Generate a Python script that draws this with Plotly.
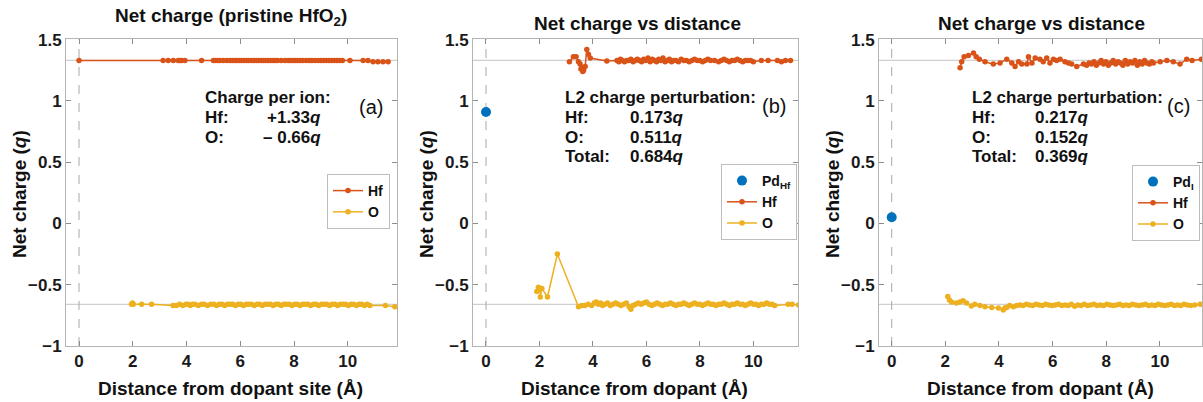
import plotly.graph_objects as go

# ---------------- data ----------------
x_ticks = [0, 2, 4, 6, 8, 10]
y_ticks = [-1, -0.5, 0, 0.5, 1, 1.5]
ref_hf = 1.33
ref_o = -0.66

# (a) pristine HfO2
dist_a_hf = [0.00, 3.13, 3.32, 3.51, 3.69, 3.76, 3.82, 3.94, 4.56, 5.00,
             5.08, 5.16, 5.24, 5.37, 5.50, 5.62, 5.71, 5.80, 5.88, 5.97,
             6.05, 6.14, 6.22, 6.30, 6.41, 6.50, 6.60, 6.69, 6.78, 6.86,
             6.95, 7.04, 7.13, 7.22, 7.30, 7.38, 7.52, 7.66, 7.78, 7.86,
             7.95, 8.04, 8.13, 8.22, 8.32, 8.45, 8.56, 8.66, 8.78, 8.90,
             9.00, 9.10, 9.20, 9.30, 9.40, 9.50, 9.60, 9.70, 9.80, 10.08,
             10.57, 10.75, 10.94, 11.12, 11.31, 11.50]
q_a_hf = [1.33, 1.33, 1.33, 1.33, 1.33, 1.33, 1.33, 1.33, 1.33, 1.33,
          1.33, 1.33, 1.33, 1.33, 1.33, 1.33, 1.33, 1.33, 1.33, 1.33,
          1.33, 1.33, 1.33, 1.33, 1.33, 1.33, 1.33, 1.33, 1.33, 1.33,
          1.33, 1.33, 1.33, 1.33, 1.33, 1.33, 1.33, 1.33, 1.33, 1.33,
          1.33, 1.33, 1.33, 1.33, 1.33, 1.33, 1.33, 1.33, 1.33, 1.33,
          1.33, 1.33, 1.33, 1.33, 1.33, 1.33, 1.33, 1.33, 1.33, 1.33,
          1.33, 1.33, 1.32, 1.32, 1.32, 1.32]
dist_a_o = [1.95, 1.99, 2.02, 2.33, 2.70, 3.50, 3.62, 3.74, 3.86, 3.98,
            4.06, 4.14, 4.22, 4.32, 4.44, 4.56, 4.66, 4.78, 4.90, 5.02,
            5.12, 5.22, 5.32, 5.42, 5.52, 5.62, 5.72, 5.82, 5.92, 6.02,
            6.12, 6.22, 6.32, 6.42, 6.52, 6.62, 6.72, 6.82, 6.92, 7.02,
            7.12, 7.22, 7.32, 7.42, 7.52, 7.62, 7.72, 7.82, 7.92, 8.02,
            8.12, 8.22, 8.32, 8.42, 8.52, 8.62, 8.72, 8.82, 8.92, 9.02,
            9.12, 9.22, 9.32, 9.42, 9.52, 9.62, 9.72, 9.82, 9.92, 10.02,
            10.12, 10.22, 10.32, 10.42, 10.52, 10.62, 10.72, 10.82, 11.40, 11.75]
q_a_o = [-0.66, -0.65, -0.66, -0.66, -0.66, -0.67, -0.67, -0.66, -0.67, -0.66,
         -0.66, -0.67, -0.66, -0.66, -0.67, -0.66, -0.66, -0.67, -0.66, -0.66,
         -0.67, -0.66, -0.66, -0.67, -0.66, -0.66, -0.66, -0.67, -0.66, -0.66,
         -0.67, -0.66, -0.66, -0.66, -0.67, -0.66, -0.66, -0.67, -0.66, -0.66,
         -0.66, -0.67, -0.66, -0.66, -0.67, -0.66, -0.66, -0.66, -0.67, -0.66,
         -0.66, -0.67, -0.66, -0.66, -0.66, -0.67, -0.66, -0.66, -0.67, -0.66,
         -0.66, -0.66, -0.67, -0.66, -0.66, -0.67, -0.66, -0.66, -0.66, -0.67,
         -0.66, -0.66, -0.67, -0.66, -0.66, -0.67, -0.66, -0.67, -0.67, -0.68]

# (b) Pd substituting Hf
dist_b_pd = [0.0]
q_b_pd = [0.91]
dist_b_hf = [3.12, 3.27, 3.37, 3.46, 3.52, 3.55, 3.58, 3.62, 3.65, 3.71,
             3.77, 3.83, 3.90, 4.52, 4.90, 4.97, 5.03, 5.10, 5.18, 5.26,
             5.34, 5.42, 5.50, 5.58, 5.66, 5.74, 5.82, 5.90, 5.98, 6.06,
             6.14, 6.22, 6.30, 6.38, 6.46, 6.54, 6.62, 6.70, 6.78, 6.86,
             6.94, 7.02, 7.10, 7.20, 7.30, 7.40, 7.50, 7.60, 7.70, 7.80,
             7.90, 8.00, 8.10, 8.20, 8.30, 8.40, 8.55, 8.70, 8.80, 8.90,
             9.00, 9.10, 9.20, 9.30, 9.40, 9.50, 9.60, 9.70, 9.80, 9.90,
             10.00, 10.30, 10.55, 10.90, 11.05, 11.20, 11.39]
q_b_hf = [1.32, 1.36, 1.36, 1.32, 1.30, 1.26, 1.27, 1.24, 1.25, 1.28,
          1.42, 1.38, 1.35, 1.325, 1.33, 1.32, 1.34, 1.33, 1.32, 1.33,
          1.33, 1.34, 1.32, 1.33, 1.34, 1.33, 1.32, 1.34, 1.33, 1.35,
          1.32, 1.34, 1.33, 1.32, 1.34, 1.33, 1.35, 1.32, 1.33, 1.34,
          1.32, 1.33, 1.33, 1.32, 1.34, 1.33, 1.33, 1.32, 1.33, 1.34,
          1.33, 1.33, 1.32, 1.33, 1.34, 1.33, 1.33, 1.32, 1.33, 1.34,
          1.33, 1.32, 1.33, 1.33, 1.34, 1.33, 1.32, 1.33, 1.33, 1.33,
          1.32, 1.33, 1.33, 1.33, 1.32, 1.33, 1.33]
dist_b_o = [1.90, 1.96, 2.02, 2.03, 2.09, 2.30, 2.67, 3.46, 3.58, 3.70,
            3.82, 3.95, 4.05, 4.12, 4.20, 4.28, 4.36, 4.45, 4.55, 4.65,
            4.75, 4.85, 4.95, 5.05, 5.15, 5.25, 5.35, 5.42, 5.50, 5.60,
            5.70, 5.80, 5.90, 6.00, 6.10, 6.20, 6.30, 6.40, 6.50, 6.60,
            6.70, 6.80, 6.90, 7.00, 7.10, 7.20, 7.30, 7.40, 7.50, 7.60,
            7.70, 7.80, 7.90, 8.00, 8.10, 8.20, 8.30, 8.40, 8.50, 8.60,
            8.70, 8.80, 8.90, 9.00, 9.10, 9.20, 9.30, 9.40, 9.50, 9.60,
            9.70, 9.80, 9.90, 10.00, 10.10, 10.20, 10.30, 10.40, 10.50, 10.60,
            10.70, 10.80, 11.30, 11.45, 11.69]
q_b_o = [-0.555, -0.52, -0.535, -0.60, -0.53, -0.60, -0.25, -0.68, -0.67, -0.67,
         -0.66, -0.67, -0.65, -0.64, -0.66, -0.65, -0.67, -0.66, -0.65, -0.67,
         -0.66, -0.65, -0.66, -0.67, -0.66, -0.65, -0.68, -0.70, -0.67, -0.66,
         -0.65, -0.66, -0.65, -0.64, -0.66, -0.67, -0.66, -0.65, -0.66, -0.67,
         -0.66, -0.66, -0.65, -0.66, -0.67, -0.66, -0.66, -0.65, -0.66, -0.67,
         -0.66, -0.65, -0.66, -0.66, -0.67, -0.66, -0.65, -0.66, -0.66, -0.67,
         -0.66, -0.66, -0.65, -0.66, -0.67, -0.66, -0.66, -0.65, -0.66, -0.66,
         -0.67, -0.66, -0.65, -0.66, -0.66, -0.67, -0.66, -0.66, -0.65, -0.66,
         -0.66, -0.67, -0.66, -0.66, -0.665]

# (c) Pd interstitial
dist_c_pd = [0.0]
q_c_pd = [0.05]
dist_c_hf = [2.55, 2.61, 2.70, 2.86, 3.05, 3.15, 3.27, 3.48, 3.79, 4.04,
             4.29, 4.48, 4.60, 4.73, 4.85, 5.04, 5.10, 5.23, 5.35, 5.53,
             5.65, 5.78, 5.90, 6.03, 6.15, 6.28, 6.46, 6.59, 6.71, 6.90,
             7.15, 7.27, 7.36, 7.45, 7.54, 7.63, 7.72, 7.81, 7.90, 7.99,
             8.08, 8.17, 8.26, 8.35, 8.44, 8.53, 8.62, 8.71, 8.80, 8.89,
             8.98, 9.07, 9.16, 9.25, 9.34, 9.43, 9.52, 9.61, 9.70, 9.76,
             10.01, 10.26, 10.50, 10.75, 11.00, 11.20, 11.55]
q_c_hf = [1.27, 1.32, 1.36, 1.37, 1.39, 1.36, 1.34, 1.32, 1.30, 1.31,
          1.34, 1.31, 1.28, 1.32, 1.30, 1.30, 1.36, 1.31, 1.35, 1.34,
          1.32, 1.35, 1.31, 1.34, 1.33, 1.34, 1.32, 1.31, 1.30, 1.28,
          1.30, 1.29, 1.31, 1.30, 1.32, 1.29, 1.31, 1.33, 1.30, 1.32,
          1.29, 1.31, 1.33, 1.30, 1.32, 1.31, 1.29, 1.33, 1.30, 1.32,
          1.31, 1.33, 1.29, 1.32, 1.30, 1.33, 1.31, 1.30, 1.32, 1.31,
          1.32, 1.33, 1.32, 1.30, 1.34, 1.33, 1.34]
dist_c_o = [2.09, 2.15, 2.23, 2.41, 2.54, 2.66, 2.79, 2.97, 3.10, 3.29,
            3.48, 3.73, 3.98, 4.16, 4.22, 4.29, 4.40, 4.54, 4.66, 4.78,
            4.90, 5.02, 5.14, 5.26, 5.38, 5.50, 5.62, 5.74, 5.86, 5.98,
            6.10, 6.22, 6.34, 6.46, 6.58, 6.70, 6.82, 6.94, 7.06, 7.18,
            7.30, 7.42, 7.54, 7.66, 7.78, 7.90, 8.02, 8.14, 8.26, 8.38,
            8.50, 8.62, 8.74, 8.86, 8.98, 9.10, 9.22, 9.34, 9.46, 9.58,
            9.70, 9.82, 9.94, 10.06, 10.18, 10.30, 10.42, 10.54, 10.66, 10.78,
            10.90, 11.02, 11.15, 11.30, 11.50]
q_c_o = [-0.597, -0.624, -0.64, -0.65, -0.64, -0.63, -0.65, -0.673, -0.66, -0.67,
         -0.68, -0.685, -0.69, -0.706, -0.69, -0.685, -0.67, -0.68, -0.67, -0.665,
         -0.67, -0.66, -0.665, -0.67, -0.66, -0.665, -0.67, -0.66, -0.665, -0.67,
         -0.665, -0.66, -0.67, -0.665, -0.67, -0.66, -0.675, -0.665, -0.67, -0.66,
         -0.67, -0.665, -0.66, -0.67, -0.665, -0.67, -0.66, -0.665, -0.67, -0.665,
         -0.66, -0.67, -0.665, -0.67, -0.66, -0.665, -0.67, -0.665, -0.66, -0.67,
         -0.665, -0.67, -0.66, -0.665, -0.67, -0.665, -0.66, -0.67, -0.665, -0.67,
         -0.66, -0.665, -0.67, -0.665, -0.66]

# ---------------- styling ----------------
W, H = 1203, 402
MT, MB = 39, 56
PH = H - MT - MB
FONT = "Liberation Sans"
C_HF = "#D95319"
C_O = "#EDB120"
C_PD = "#0072BD"

def px(x):
    return x / W

def py(y):
    return (H - MB - y) / PH

fig = go.Figure()

panels = [
    # xaxis id, yaxis id, legend id, domain px, x range
    ("x", "y", "legend", (66, 397), (-0.484, 11.83)),
    ("x2", "y2", "legend2", (473, 798), (-0.486, 11.67)),
    ("x3", "y3", "legend3", (879, 1202), (-0.473, 11.57)),
]

def add_series(xa, ya, lg, dist, q, name, color, mode="lines+markers", size=5.5):
    fig.add_trace(go.Scatter(
        x=dist, y=q, name=name, mode=mode, xaxis=xa, yaxis=ya, legend=lg,
        line=dict(color=color, width=1.5),
        marker=dict(color=color, size=size),
    ))

# panel a
add_series("x", "y", "legend", dist_a_hf, q_a_hf, "Hf", C_HF)
add_series("x", "y", "legend", dist_a_o, q_a_o, "O", C_O)
# panel b
add_series("x2", "y2", "legend2", dist_b_pd, q_b_pd, "Pd<sub>Hf</sub>", C_PD, mode="markers", size=10)
add_series("x2", "y2", "legend2", dist_b_hf, q_b_hf, "Hf", C_HF)
add_series("x2", "y2", "legend2", dist_b_o, q_b_o, "O", C_O)
# panel c
add_series("x3", "y3", "legend3", dist_c_pd, q_c_pd, "Pd<sub>I</sub>", C_PD, mode="markers", size=10)
add_series("x3", "y3", "legend3", dist_c_hf, q_c_hf, "Hf", C_HF)
add_series("x3", "y3", "legend3", dist_c_o, q_c_o, "O", C_O)

tickfont = dict(family=FONT, size=17, color="#1a1a1a", weight="bold")
layout = dict(
    width=W, height=H,
    margin=dict(l=0, r=0, t=MT, b=MB),
    paper_bgcolor="white", plot_bgcolor="white",
    showlegend=True,
)
legend_pos = [(390, 174), (797, 164), (1200, 165)]
for i, (xa, ya, lg, dom, xr) in enumerate(panels):
    xkey = "xaxis" if xa == "x" else "xaxis" + xa[1:]
    ykey = "yaxis" if ya == "y" else "yaxis" + ya[1:]
    layout[xkey] = dict(
        domain=[px(dom[0]), px(dom[1])], range=list(xr), anchor=ya,
        tickvals=x_ticks, ticks="inside", ticklen=5, tickcolor="#8c8c8c",
        showline=True, linecolor="#b4b4b4", linewidth=1, mirror="ticks",
        showgrid=False, zeroline=False, tickfont=tickfont,
    )
    layout[ykey] = dict(
        domain=[0, 1], range=[-1.0, 1.505], anchor=xa,
        tickvals=y_ticks, ticks="inside", ticklen=5, tickcolor="#8c8c8c",
        showline=True, linecolor="#b4b4b4", linewidth=1, mirror="ticks",
        showgrid=False, zeroline=False, tickfont=tickfont,
    )
    lx, ly = legend_pos[i]
    layout[lg] = dict(
        x=px(lx), xanchor="right", y=py(ly), yanchor="top",
        bgcolor="white", bordercolor="#bdbdbd", borderwidth=1,
        font=dict(family=FONT, size=14, color="#111111", weight="bold"),
        tracegroupgap=0, itemwidth=30,
    )
fig.update_layout(**layout)

# reference lines
for xa, ya, lg, dom, xr in panels:
    for r in (ref_hf, ref_o):
        fig.add_shape(type="line", xref=xa + " domain", x0=0, x1=1, yref=ya, y0=r, y1=r,
                      line=dict(color="#cfcfcf", width=1.2), layer="below")
    fig.add_shape(type="line", xref=xa, x0=0, x1=0, yref=ya + " domain", y0=0, y1=1,
                  line=dict(color="#a8a8a8", width=1, dash="dash"), layer="below")

def ann(x, y, text, size=17, xanchor="left", bold=True, angle=0, color="#111111"):
    fig.add_annotation(x=px(x), y=py(y), xref="paper", yref="paper", text=text,
                       showarrow=False, xanchor=xanchor, yanchor="middle", textangle=angle,
                       font=dict(family=FONT, size=size, color=color,
                                 weight="bold" if bold else "normal"))

# titles
ann(231.5, 17, "Net charge (pristine HfO<sub>2</sub>)", size=19, xanchor="center")
ann(637, 24, "Net charge vs distance", size=19, xanchor="center")
ann(1041, 24, "Net charge vs distance", size=19, xanchor="center")
# axis titles
for cx in (19, 426, 832):
    ann(cx, 194, "Net charge (<i>q</i>)", size=19, xanchor="center", angle=-90)
ann(230, 388, "Distance from dopant site (Å)", size=19, xanchor="center")
ann(634, 388, "Distance from dopant (Å)", size=19, xanchor="center")
ann(1040, 388, "Distance from dopant (Å)", size=19, xanchor="center")

# panel a text
ann(203, 97, "Charge per ion:")
ann(203, 117, "Hf:")
ann(203, 137, "O:")
ann(323, 117, "+1.33<i>q</i>", xanchor="right")
ann(323, 137, "– 0.66<i>q</i>", xanchor="right")
ann(371, 107, "(a)", size=20, xanchor="center", bold=False)
# panel b text
ann(563, 97, "L2 charge perturbation:")
ann(563, 117, "Hf:")
ann(563, 137, "O:")
ann(563, 156, "Total:")
ann(628, 117, "0.173<i>q</i>")
ann(628, 137, "0.511<i>q</i>")
ann(628, 156, "0.684<i>q</i>")
ann(774, 106, "(b)", size=20, xanchor="center", bold=False)
# panel c text
ann(970, 97, "L2 charge perturbation:")
ann(970, 117, "Hf:")
ann(970, 137, "O:")
ann(970, 156, "Total:")
ann(1033, 117, "0.217<i>q</i>")
ann(1033, 137, "0.152<i>q</i>")
ann(1033, 156, "0.369<i>q</i>")
ann(1178, 106, "(c)", size=20, xanchor="center", bold=False)

fig.write_html("out.html", config={"displayModeBar": False},
               post_script="document.body.style.margin='0px';")
